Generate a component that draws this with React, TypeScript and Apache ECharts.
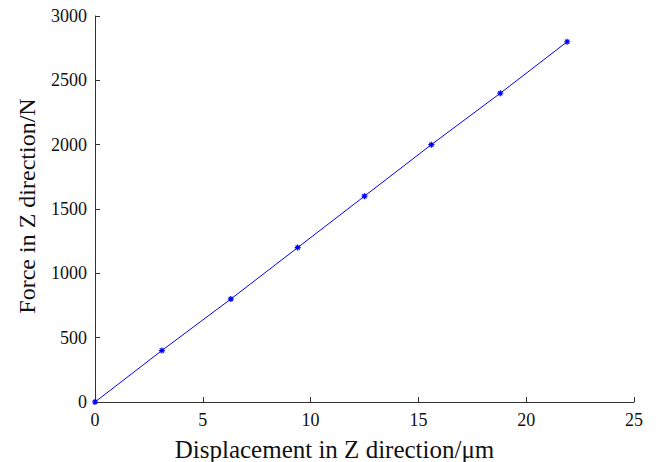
import React, { useEffect, useRef } from "react";
import * as echarts from "echarts";

// Displacement (μm) and force (N) in Z direction
const displacement = [0, 3.1, 6.3, 9.4, 12.5, 15.6, 18.8, 21.9];
const force = [0, 400, 800, 1200, 1600, 2000, 2400, 2800];

const xTicks = [0, 5, 10, 15, 20, 25];
const yTicks = [0, 500, 1000, 1500, 2000, 2500, 3000];

const FONT = "Liberation Serif";
const ASTERISK =
  "path://M5,0L5,10M0,5L10,5M1.5,1.5L8.5,8.5M1.5,8.5L8.5,1.5";

export default function App() {
  const ref = useRef<HTMLDivElement>(null);

  useEffect(() => {
    if (!ref.current) return;
    const chart = echarts.init(ref.current, null, { renderer: "svg" });
    const axisLine = { show: true, lineStyle: { color: "#333", width: 1 } };
    const axisTick = { show: true, inside: true, length: 5, lineStyle: { color: "#333" } };
    chart.setOption({
      animation: false,
      grid: {
        left: 95,
        right: 23,
        top: 16,
        bottom: 60,
        containLabel: false,
        outerBoundsMode: "none",
      },
      xAxis: {
        type: "value",
        min: xTicks[0],
        max: xTicks[xTicks.length - 1],
        interval: 5,
        name: "Displacement in Z direction/μm",
        nameLocation: "middle",
        nameGap: 35,
        // the label sits a little left of the axis centre
        nameTextStyle: { color: "#111", fontFamily: FONT, fontSize: 25, padding: [0, 60, 0, 0] },
        axisLine,
        axisTick,
        splitLine: { show: false },
        axisLabel: { color: "#111", fontFamily: FONT, fontSize: 18, margin: 9 },
      },
      yAxis: {
        type: "value",
        min: yTicks[0],
        max: yTicks[yTicks.length - 1],
        interval: 500,
        name: "Force in Z direction/N",
        nameLocation: "middle",
        nameGap: 56,
        nameTextStyle: { color: "#111", fontFamily: FONT, fontSize: 24, padding: [0, 0, 0, 6] },
        axisLine,
        axisTick,
        splitLine: { show: false },
        axisLabel: {
          color: "#111",
          fontFamily: FONT,
          fontSize: 18,
          margin: 8,
          formatter: (v: number) => String(v),
        },
      },
      series: [
        {
          type: "line",
          data: displacement.map((d, i) => [d, force[i]]),
          lineStyle: { color: "#0000ff", width: 1 },
          symbol: ASTERISK,
          symbolSize: 6,
          showAllSymbol: true,
          itemStyle: { color: "#0000ff", borderColor: "#0000ff", borderWidth: 1.2 },
        },
      ],
    });
    return () => chart.dispose();
  }, []);

  return <div ref={ref} style={{ width: 657, height: 462, position: "absolute", left: 0, top: 0, background: "#fff" }} />;
}
